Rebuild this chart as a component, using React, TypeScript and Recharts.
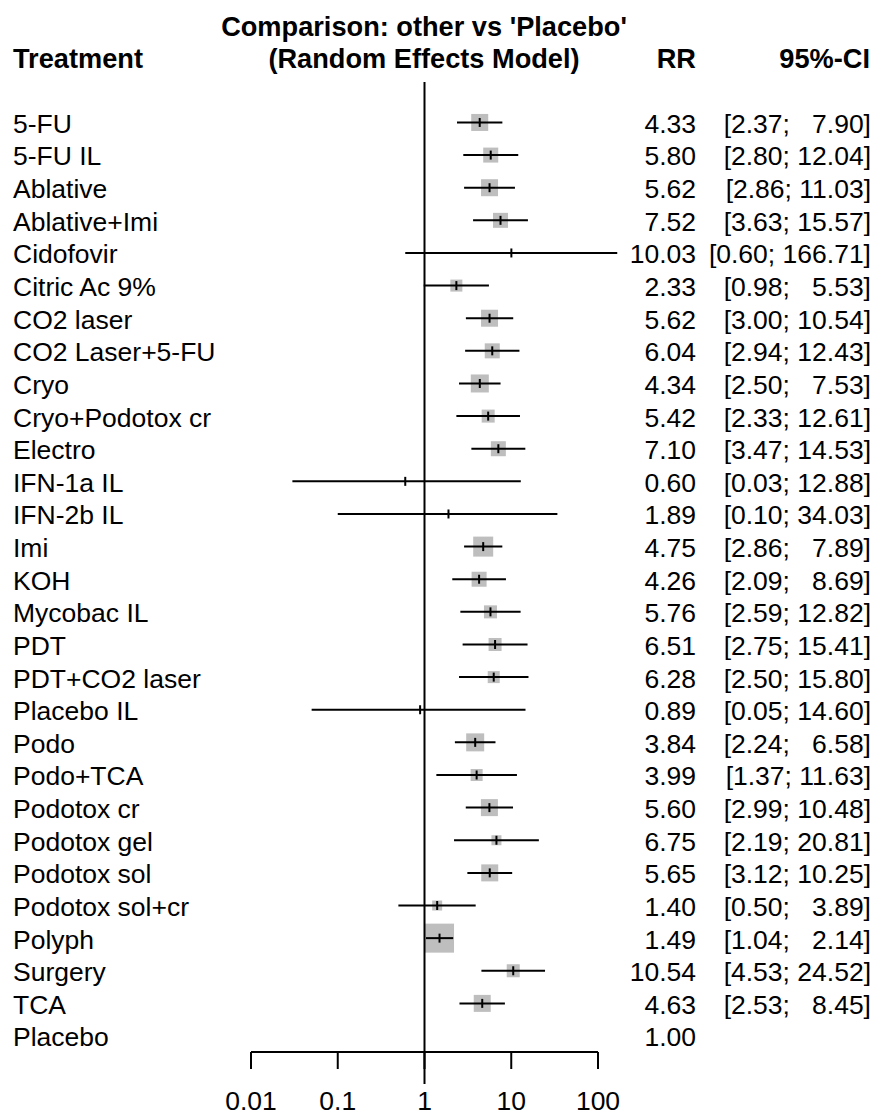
import { ComposedChart, Scatter, ErrorBar, XAxis, YAxis, ReferenceLine } from "recharts";

const treatments = [
  "5-FU", "5-FU IL", "Ablative", "Ablative+Imi", "Cidofovir", "Citric Ac 9%", "CO2 laser",
  "CO2 Laser+5-FU", "Cryo", "Cryo+Podotox cr", "Electro", "IFN-1a IL", "IFN-2b IL", "Imi",
  "KOH", "Mycobac IL", "PDT", "PDT+CO2 laser", "Placebo IL", "Podo", "Podo+TCA", "Podotox cr",
  "Podotox gel", "Podotox sol", "Podotox sol+cr", "Polyph", "Surgery", "TCA", "Placebo",
];
const rr = [
  4.33, 5.80, 5.62, 7.52, 10.03, 2.33, 5.62, 6.04, 4.34, 5.42, 7.10, 0.60, 1.89, 4.75,
  4.26, 5.76, 6.51, 6.28, 0.89, 3.84, 3.99, 5.60, 6.75, 5.65, 1.40, 1.49, 10.54, 4.63, 1.00,
];
const lower = [
  2.37, 2.80, 2.86, 3.63, 0.60, 0.98, 3.00, 2.94, 2.50, 2.33, 3.47, 0.03, 0.10, 2.86,
  2.09, 2.59, 2.75, 2.50, 0.05, 2.24, 1.37, 2.99, 2.19, 3.12, 0.50, 1.04, 4.53, 2.53, null,
];
const upper = [
  7.90, 12.04, 11.03, 15.57, 166.71, 5.53, 10.54, 12.43, 7.53, 12.61, 14.53, 12.88, 34.03, 7.89,
  8.69, 12.82, 15.41, 15.80, 14.60, 6.58, 11.63, 10.48, 20.81, 10.25, 3.89, 2.14, 24.52, 8.45, null,
];
// box side in px (study weight)
const boxSize = [17, 15, 17, 15, 0, 12, 17, 15, 18, 13, 15, 0, 0, 20, 15, 13, 13, 12, 0, 18, 12, 17, 10, 17, 10, 29, 13, 17, 0];
const xTicks = [0.01, 0.1, 1, 10, 100];

const FONT = "'Liberation Sans', Arial, sans-serif";
const FS = 26.5;
const FS_HEAD = 27.2;
const rowIdx = treatments.map((_, i) => i);

const rows = treatments.map((name, i) => ({
  row: i,
  name,
  rr: rr[i],
  lo: lower[i],
  hi: upper[i],
  box: boxSize[i],
  err: lower[i] == null ? null : [rr[i] - (lower[i] as number), (upper[i] as number) - rr[i]],
}));
const plotRows = rows.filter((r) => r.lo != null);

const NB = "\u00A0";
function fmtCI(lo: number | null, hi: number | null) {
  if (lo == null || hi == null) return "";
  const h = hi.toFixed(2);
  const pad = Math.max(0, 5 - h.length);
  return `[${lo.toFixed(2)};${NB}${NB.repeat(pad * 2)}${h}]`;
}

const LeftTick = (p: any) => (
  <text x={13} y={p.y} dy={10.4} fontSize={FS} fontFamily={FONT} fill="#000" textAnchor="start">
    {treatments[p.payload.value]}
  </text>
);

const RightTick = (p: any) => {
  const i = p.payload.value;
  return (
    <g>
      <text x={696} y={p.y} dy={10.4} fontSize={FS} fontFamily={FONT} fill="#000" textAnchor="end">
        {rr[i].toFixed(2)}
      </text>
      <text x={871} y={p.y} dy={10.4} fontSize={FS} fontFamily={FONT} fill="#000" textAnchor="end">
        {fmtCI(lower[i], upper[i])}
      </text>
    </g>
  );
};

export default function App() {
  return (
    <div style={{ position: "relative", width: 876, height: 1115, background: "#fff" }}>
      <style>{"body{margin:0}"}</style>
      <ComposedChart width={876} height={1115} data={plotRows} margin={{ top: 82, right: 0, bottom: 13, left: 0 }}>
        <XAxis
          dataKey="rr"
          type="number"
          scale="log"
          domain={[0.01, 1000]}
          ticks={xTicks}
          tickFormatter={(v) => String(v)}
          axisLine={false}
          tickLine={{ stroke: "#000", strokeWidth: 2 }}
          tickSize={17}
          tickMargin={22}
          height={50}
          interval={0}
          tick={{ fontSize: FS, fill: "#000", fontFamily: FONT }}
        />
        <YAxis
          yAxisId="left"
          dataKey="row"
          type="number"
          reversed
          domain={[-1.24, 28.49]}
          ticks={rowIdx}
          interval={0}
          width={251}
          axisLine={false}
          tickLine={false}
          tick={LeftTick}
        />
        <YAxis
          yAxisId="right"
          orientation="right"
          dataKey="row"
          type="number"
          reversed
          domain={[-1.24, 28.49]}
          ticks={rowIdx}
          interval={0}
          width={191.25}
          axisLine={false}
          tickLine={false}
          tick={RightTick}
        />
        <Scatter
          yAxisId="left"
          data={plotRows}
          isAnimationActive={false}
          zIndex={50}
          shape={(p: any) => {
            const s = p.payload.box;
            if (!s) return <g />;
            return <rect x={p.cx - s / 2} y={p.cy - s / 2} width={s} height={s} fill="#bebebe" />;
          }}
        />
        <ReferenceLine
          yAxisId="left"
          segment={[{ x: 1, y: -1.24 }, { x: 1, y: 29.47 }]}
          stroke="#000"
          strokeWidth={2}
          ifOverflow="visible"
        />
        <ReferenceLine
          yAxisId="left"
          segment={[{ x: 0.01, y: 28.49 }, { x: 100, y: 28.49 }]}
          stroke="#000"
          strokeWidth={2}
          ifOverflow="visible"
        />
        <Scatter
          yAxisId="left"
          data={plotRows}
          isAnimationActive={false}
          zIndex={700}
          shape={(p: any) => (
            <line x1={p.cx} x2={p.cx} y1={p.cy - 4.5} y2={p.cy + 4.5} stroke="#000" strokeWidth={2} />
          )}
        >
          <ErrorBar dataKey="err" direction="x" width={0} stroke="#000" strokeWidth={2} isAnimationActive={false} zIndex={700} />
        </Scatter>
      </ComposedChart>
      <svg width={876} height={80} style={{ position: "absolute", left: 0, top: 0, pointerEvents: "none" }}>
        <g fontFamily={FONT} fontSize={FS_HEAD} fontWeight="bold" fill="#000">
          <text x={424} y={36} textAnchor="middle">Comparison: other vs 'Placebo'</text>
          <text x={424} y={67.7} textAnchor="middle">(Random Effects Model)</text>
          <text x={13} y={67.7} textAnchor="start">Treatment</text>
          <text x={696} y={67.7} textAnchor="end">RR</text>
          <text x={870} y={67.7} textAnchor="end">95%-CI</text>
        </g>
      </svg>
    </div>
  );
}
